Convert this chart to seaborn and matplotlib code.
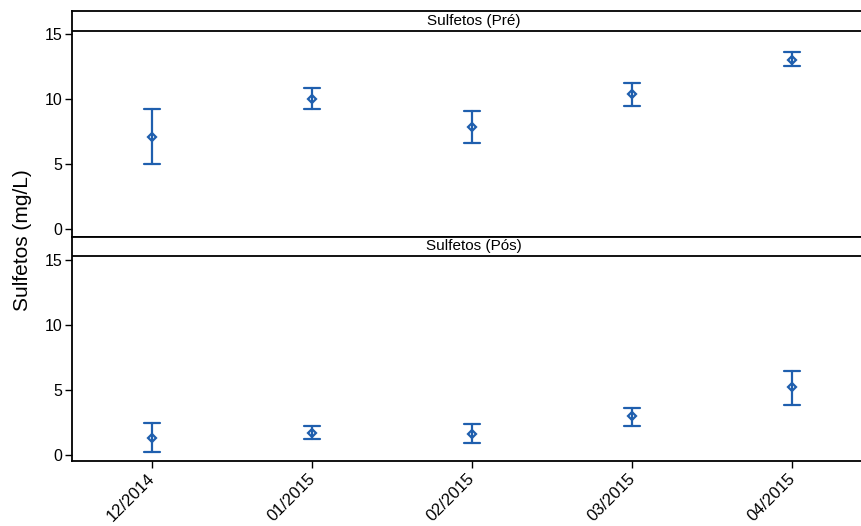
import numpy as np
import pandas as pd
import seaborn as sns
import matplotlib
matplotlib.use("Agg")
import matplotlib.pyplot as plt

# Data
months = ["12/2014", "01/2015", "02/2015", "03/2015", "04/2015"]
pre_mean = [7.12, 10.02, 7.87, 10.41, 13.02]
pre_lo = [5.00, 9.25, 6.62, 9.51, 12.54]
pre_hi = [9.25, 10.90, 9.12, 11.28, 13.66]
pos_mean = [1.33, 1.74, 1.62, 3.00, 5.26]
pos_lo = [0.23, 1.23, 0.97, 2.23, 3.87]
pos_hi = [2.51, 2.26, 2.38, 3.64, 6.51]

sns.set_theme(style="white")
plt.rcParams["font.family"] = ["Liberation Sans", "DejaVu Sans"]
plt.rcParams["text.color"] = "black"
plt.rcParams["xtick.color"] = "black"
plt.rcParams["ytick.color"] = "black"

blue = "#1f5fae"


def long_table(mean, lo, hi):
    # three rows per month: median is the mean, min/max are the bar ends
    rows = []
    for m, a, b, c in zip(months, lo, mean, hi):
        for v in (a, b, c):
            rows.append({"mes": m, "valor": v})
    return pd.DataFrame(rows)


fig = plt.figure(figsize=(8.61, 5.26), dpi=100)
left = 72.3 / 861
ax_top = fig.add_axes([left, 1 - 236.7 / 526, 1 - left, (236.7 - 11) / 526])
ax_bot = fig.add_axes([left, 1 - 461.3 / 526, 1 - left, (461.3 - 236.7) / 526])

panels = [
    (ax_top, long_table(pre_mean, pre_lo, pre_hi), "Sulfetos (Pré)", (-0.57, 16.79), 15.28),
    (ax_bot, long_table(pos_mean, pos_lo, pos_hi), "Sulfetos (Pós)", (-0.46, 16.82), 15.35),
]

for ax, df, strip, ylim, strip_y in panels:
    sns.pointplot(data=df, x="mes", y="valor", order=months, ax=ax,
                  estimator="median", errorbar=lambda v: (v.min(), v.max()),
                  linestyle="none", color=blue, capsize=0.1,
                  err_kws={"linewidth": 1.6}, marker="D", markersize=4.5,
                  markerfacecolor="white", markeredgewidth=1.6)
    ax.set_xlim(-0.5, -0.5 + (861 - 72.3) / 160)
    ax.set_ylim(*ylim)
    ax.set_yticks([0, 5, 10, 15])
    ax.set_xlabel("")
    ax.set_ylabel("")
    ax.axhline(strip_y, color="black", linewidth=1.3)
    ax.text(2.01, (strip_y + ylim[1]) / 2, strip,
            ha="center", va="center", fontsize=11, color="black")
    for s in ["left", "top", "bottom"]:
        ax.spines[s].set_visible(True)
        ax.spines[s].set_color("black")
        ax.spines[s].set_linewidth(1.3)
    ax.spines["right"].set_visible(False)
    ax.tick_params(axis="y", which="both", left=True, length=5, width=1,
                   color="black", labelcolor="black", labelsize=11.5, pad=2)
    ax.set_facecolor("white")

ax_top.tick_params(axis="x", bottom=False, labelbottom=False)
ax_bot.tick_params(axis="x", bottom=True, length=5, width=1, color="black",
                   labelcolor="black", labelsize=12, pad=6)
for lab in ax_bot.get_xticklabels():
    lab.set_rotation(45)
    lab.set_ha("right")
    lab.set_va("center")
    lab.set_rotation_mode("anchor")

fig.text(0.026, 1 - 240 / 526, "Sulfetos (mg/L)", rotation=90,
         ha="center", va="center", fontsize=15, color="black")

fig.savefig("out.png", dpi=100)
